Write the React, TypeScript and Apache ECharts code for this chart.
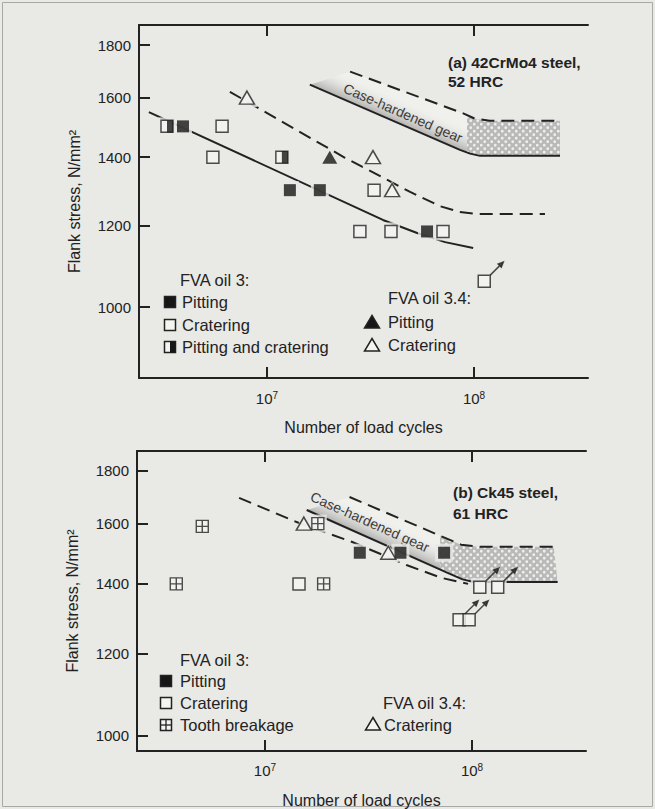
import React, { useEffect, useRef } from "react";
import * as echarts from "echarts";

// ---------- axes ----------
const xTicks = [1e7, 1e8];
const yTicks = [1000, 1200, 1400, 1600, 1800];
const X_MIN = 2.41e6;
const X_MAX = 3.55e8;
const YA_MIN = 853;
const YA_MAX = 1883;
const YB_MIN = 967;
const YB_MAX = 1879;

// ---------- panel (a) 42CrMo4 steel ----------
const aPitting = [[3.93e6, 1500], [1.29e7, 1300], [1.8e7, 1300], [5.93e7, 1185]];
const aCratering = [[6.07e6, 1500], [5.48e6, 1400], [3.29e7, 1300], [2.81e7, 1185], [3.97e7, 1185], [7.08e7, 1185], [1.12e8, 1060]];
const aPitCrat = [[3.29e6, 1500], [1.18e7, 1400]];
const aOil34Pitting = [[2.01e7, 1400]];
const aOil34Cratering = [[8.0e6, 1600], [3.25e7, 1400], [4.02e7, 1300]];
const aArrows = [[1.12e8, 1060]];
const aPittingLine = [[2.69e6, 1549], [3.63e7, 1216], [5.31e7, 1181], [7.25e7, 1157], [9.9e7, 1142]];
const aCrateringLine = [[6.62e6, 1621], [2.38e7, 1398], [4.91e7, 1295], [6.85e7, 1254], [8.55e7, 1238], [1.045e8, 1232], [2.2e8, 1232]];
const aBandLower = [[1.61e7, 1647], [8.55e7, 1423], [9.57e7, 1411], [1.07e8, 1404], [2.6e8, 1404]];
const aBandUpper = [[2.52e7, 1696], [8.75e7, 1546], [1.01e8, 1526], [1.19e8, 1519], [2.6e8, 1519]];
const aPatternStart = 9.25e7;
const aBandLabelAt = [4.54e7, 1546];

// ---------- panel (b) Ck45 steel ----------
const bPitting = [[2.87e7, 1500], [4.51e7, 1500], [7.33e7, 1500]];
const bCratering = [[1.46e7, 1400], [1.09e8, 1390], [1.33e8, 1390], [8.66e7, 1293], [9.68e7, 1293]];
const bTooth = [[4.98e6, 1590], [3.73e6, 1400], [1.8e7, 1600], [1.92e7, 1400]];
const bOil34Cratering = [[1.54e7, 1600], [3.94e7, 1500]];
const bArrows = [[1.09e8, 1390], [1.33e8, 1390], [8.66e7, 1293], [9.68e7, 1293]];
const bCrateringLine = [[7.5e6, 1694], [1.46e7, 1602], [2.62e7, 1537], [4.82e7, 1460], [7.1e7, 1419], [9.57e7, 1400]];
const bBandLower = [[1.59e7, 1649], [7.67e7, 1434], [9.0e7, 1414], [1.02e8, 1406], [2.59e8, 1406]];
const bBandUpper = [[2.56e7, 1697], [8.85e7, 1527], [1.07e8, 1520], [2.48e8, 1520]];
const bPatternStart = 7.0e7;
const bBandLabelAt = [3.21e7, 1606];

const INK = "#222222";
const BG = "#e9e9e6";
const PAPER = "#f4f4f1";
const FONT = '"Liberation Sans", Arial, sans-serif';

const ARROW = "path://M0,13L9.5,3.5M13,0L11,5.1L7.9,2Z";
const TOOTH = "path://M0,0H12V12H0Z M6,0V12 M0,6H12";

function interpY(pts: number[][], x: number) {
  for (let i = 0; i < pts.length - 1; i++) {
    const a = pts[i], b = pts[i + 1];
    if (x >= a[0] && x <= b[0]) {
      const t = (x - a[0]) / (b[0] - a[0] || 1);
      return a[1] + t * (b[1] - a[1]);
    }
  }
  return x < pts[0][0] ? pts[0][1] : pts[pts.length - 1][1];
}

function bandSeries(g: number, lower: number[][], upper: number[][], patStart: number, labelAt: number[], pattern: any) {
  return {
    type: "custom",
    xAxisIndex: g * 2,
    yAxisIndex: g,
    silent: true,
    z: 1,
    data: [labelAt],
    encode: { x: 0, y: 1 },
    renderItem: (params: any, api: any) => {
      const L = lower.map((p) => api.coord(p));
      const U = upper.map((p) => api.coord(p));
      const poly = [...U, ...L.slice().reverse()];
      const p0 = L[0], p1 = L[1];
      let dx = p1[0] - p0[0], dy = p1[1] - p0[1];
      const len = Math.hypot(dx, dy);
      dx /= len; dy /= len;
      const nx = dy, ny = -dx;
      const m = [(p0[0] + p1[0]) / 2, (p0[1] + p1[1]) / 2];
      const grad = new echarts.graphic.LinearGradient(
        m[0], m[1], m[0] + nx * 24, m[1] + ny * 24,
        [
          { offset: 0, color: "rgba(150,150,148,0.7)" },
          { offset: 0.45, color: "rgba(190,190,188,0.4)" },
          { offset: 1, color: "rgba(240,240,238,0)" },
        ],
        true
      );
      const xs = api.coord([patStart, lower[0][1]])[0];
      const yU = interpY(U, xs), yL = interpY(L, xs);
      const patPoly = [[xs, yU], ...U.filter((p: number[]) => p[0] > xs), ...L.filter((p: number[]) => p[0] > xs).reverse(), [xs, yL]];
      const c = api.coord(labelAt);
      const ang = Math.atan2(dy, dx);
      return {
        type: "group",
        children: [
          { type: "polygon", shape: { points: poly }, style: { fill: "#f0f0ed" } },
          { type: "polygon", shape: { points: poly }, style: { fill: grad } },
          { type: "polygon", shape: { points: patPoly }, style: { fill: pattern } },
          {
            type: "text",
            x: c[0],
            y: c[1],
            rotation: -ang,
            style: {
              text: "Case-hardened gear",
              fill: "#3c3c3c",
              fontSize: 14,
              fontFamily: FONT,
              align: "center",
              verticalAlign: "middle",
            },
          },
        ],
      };
    },
  };
}

function lineSeries(g: number, data: number[][], dashed: boolean) {
  return {
    type: "line",
    xAxisIndex: g * 2,
    yAxisIndex: g,
    data,
    symbol: "none",
    showSymbol: false,
    smooth: false,
    silent: true,
    z: 2,
    lineStyle: { color: INK, width: 2, type: dashed ? [13, 7] : "solid", join: "round" },
  };
}

function scatter(g: number, data: number[][], extra: any) {
  return {
    type: "scatter",
    xAxisIndex: g * 2,
    yAxisIndex: g,
    data,
    silent: true,
    z: 4,
    ...extra,
  };
}

// halo under a marker, so that lines break around it as in the print
function halo(g: number, data: number[][], symbol: string, size: number | number[]) {
  const s = Array.isArray(size) ? [size[0] + 6, size[1] + 6] : size + 6;
  return scatter(g, data, { symbol, symbolSize: s, z: 3, itemStyle: { color: BG } });
}

const openSq = { symbol: "rect", symbolSize: 12, itemStyle: { color: PAPER, borderColor: INK, borderWidth: 1.5 } };
const fillSq = { symbol: "rect", symbolSize: 12, itemStyle: { color: "#161616" } };
const halfSq = { symbol: "rect", symbolSize: [6, 12], symbolOffset: [3, 0], z: 5, itemStyle: { color: "#161616" } };
const openTri = { symbol: "triangle", symbolSize: [15, 13], itemStyle: { color: PAPER, borderColor: INK, borderWidth: 1.5 } };
const fillTri = { symbol: "triangle", symbolSize: [15, 13], itemStyle: { color: "#161616" } };
const tooth = { symbol: TOOTH, symbolSize: 12, itemStyle: { color: PAPER, borderColor: INK, borderWidth: 1.4 } };
const arrow = { symbol: ARROW, symbolSize: 13, symbolOffset: [12.5, -12.5], z: 5, itemStyle: { color: INK, borderColor: INK, borderWidth: 1.5 } };

const powRich = {
  b: { color: INK, fontSize: 15, fontFamily: FONT },
  s: { color: INK, fontSize: 10, fontFamily: FONT, verticalAlign: "top", padding: [0, 0, 7, 0] },
};

function xAxes(g: number, labelMargin: number) {
  return [
    {
      type: "log",
      gridIndex: g,
      position: "bottom",
      min: X_MIN,
      max: X_MAX,
      axisLine: { show: true, onZero: false, lineStyle: { color: INK, width: 2 } },
      axisTick: { show: true, inside: true, length: 11, customValues: xTicks, lineStyle: { color: INK, width: 2 } },
      minorTick: { show: false },
      splitLine: { show: false },
      axisLabel: {
        customValues: xTicks,
        margin: labelMargin,
        color: INK,
        fontSize: 15,
        fontFamily: FONT,
        formatter: (v: number) => "{b|10}{s|" + Math.round(Math.log10(v)) + "}",
        rich: powRich,
      },
      name: "Number of load cycles",
      nameLocation: "middle",
      nameGap: 41,
      nameTextStyle: { color: INK, fontSize: 16, fontFamily: FONT },
    },
    {
      type: "log",
      gridIndex: g,
      position: "top",
      min: X_MIN,
      max: X_MAX,
      axisLine: { show: true, onZero: false, lineStyle: { color: INK, width: 2 } },
      axisTick: { show: true, inside: true, length: 11, customValues: xTicks, lineStyle: { color: INK, width: 2 } },
      minorTick: { show: false },
      splitLine: { show: false },
      axisLabel: { show: false },
    },
  ];
}

function yAxis(g: number, min: number, max: number) {
  return {
    type: "log",
    gridIndex: g,
    min,
    max,
    axisLine: { show: true, onZero: false, lineStyle: { color: INK, width: 2 } },
    axisTick: { show: true, inside: true, length: 11, customValues: yTicks, lineStyle: { color: INK, width: 2 } },
    minorTick: { show: false },
    splitLine: { show: false },
    axisLabel: {
      customValues: yTicks,
      margin: 8,
      color: INK,
      fontSize: 15,
      fontFamily: FONT,
      formatter: (v: number) => String(Math.round(v)),
    },
    name: "Flank stress, N/mm²",
    nameLocation: "middle",
    nameGap: 57,
    nameTextStyle: { color: INK, fontSize: 16, fontFamily: FONT },
  };
}

function txt(x: number, y: number, text: string, bold = false, size = 16.5) {
  return {
    type: "text",
    x,
    y,
    silent: true,
    style: { text, fill: INK, fontSize: size, fontWeight: bold ? "bold" : "normal", fontFamily: FONT, verticalAlign: "middle", align: "left" },
  };
}
function lSq(x: number, y: number, fill: string) {
  return { type: "rect", silent: true, shape: { x: x - 5.5, y: y - 5.5, width: 11, height: 11 }, style: { fill, stroke: INK, lineWidth: 1.5 } };
}
function lTri(x: number, y: number, fill: string) {
  return { type: "polygon", silent: true, shape: { points: [[x, y - 6.5], [x + 7.5, y + 6], [x - 7.5, y + 6]] }, style: { fill, stroke: INK, lineWidth: 1.5 } };
}
function lHalf(x: number, y: number) {
  return [lSq(x, y, PAPER), { type: "rect", silent: true, shape: { x: x, y: y - 5.5, width: 5.5, height: 11 }, style: { fill: "#161616" } }];
}
function lTooth(x: number, y: number) {
  return [
    lSq(x, y, PAPER),
    { type: "line", silent: true, shape: { x1: x, y1: y - 5.5, x2: x, y2: y + 5.5 }, style: { stroke: INK, lineWidth: 1.3 } },
    { type: "line", silent: true, shape: { x1: x - 5.5, y1: y, x2: x + 5.5, y2: y }, style: { stroke: INK, lineWidth: 1.3 } },
  ];
}

export default function App() {
  const ref = useRef<HTMLDivElement>(null);
  useEffect(() => {
    if (!ref.current) return;
    document.body.style.background = BG;
    const chart = echarts.init(ref.current, null, { renderer: "svg" });

    const cv = document.createElement("canvas");
    cv.width = 7;
    cv.height = 7;
    const ctx = cv.getContext("2d");
    if (ctx) {
      ctx.fillStyle = "#b9b9b7";
      ctx.fillRect(0, 0, 7, 7);
      ctx.fillStyle = "#eeeeec";
      ctx.beginPath();
      ctx.arc(1.75, 1.75, 1.4, 0, Math.PI * 2);
      ctx.arc(5.25, 5.25, 1.4, 0, Math.PI * 2);
      ctx.fill();
    }
    const pattern: any = { image: cv, repeat: "repeat", imageWidth: 7, imageHeight: 7 };

    const option: any = {
      animation: false,
      backgroundColor: BG,
      grid: [
        { left: 139, top: 25, width: 449, height: 353, outerBoundsMode: "none", containLabel: false },
        { left: 137, top: 451, width: 449, height: 300, outerBoundsMode: "none", containLabel: false },
      ],
      xAxis: [...xAxes(0, 12), ...xAxes(1, 11)],
      yAxis: [yAxis(0, YA_MIN, YA_MAX), yAxis(1, YB_MIN, YB_MAX)],
      series: [
        bandSeries(0, aBandLower, aBandUpper, aPatternStart, aBandLabelAt, pattern),
        lineSeries(0, aBandLower, false),
        lineSeries(0, aBandUpper, true),
        lineSeries(0, aPittingLine, false),
        lineSeries(0, aCrateringLine, true),
        halo(0, aPitting, "rect", 12),
        halo(0, aCratering, "rect", 12),
        halo(0, aPitCrat, "rect", 12),
        halo(0, aOil34Pitting, "triangle", [15, 13]),
        halo(0, aOil34Cratering, "triangle", [15, 13]),
        scatter(0, aPitting, fillSq),
        scatter(0, aCratering, openSq),
        scatter(0, aPitCrat, openSq),
        scatter(0, aPitCrat, halfSq),
        scatter(0, aOil34Pitting, fillTri),
        scatter(0, aOil34Cratering, openTri),
        scatter(0, aArrows, arrow),

        bandSeries(1, bBandLower, bBandUpper, bPatternStart, bBandLabelAt, pattern),
        lineSeries(1, bBandLower, false),
        lineSeries(1, bBandUpper, true),
        lineSeries(1, bCrateringLine, true),
        halo(1, bPitting, "rect", 12),
        halo(1, bCratering, "rect", 12),
        halo(1, bTooth, "rect", 12),
        halo(1, bOil34Cratering, "triangle", [15, 13]),
        scatter(1, bPitting, fillSq),
        scatter(1, bCratering, openSq),
        scatter(1, bTooth, tooth),
        scatter(1, bOil34Cratering, openTri),
        scatter(1, bArrows, arrow),
      ],
      graphic: [
        { type: "rect", silent: true, shape: { x: 2.5, y: 2.5, width: 650, height: 804 }, style: { fill: "none", stroke: "#a8a8a6", lineWidth: 1 } },
        txt(448, 62, "(a) 42CrMo4 steel,", true, 15.5),
        txt(448, 81, "52 HRC", true, 15.5),
        txt(180, 280, "FVA oil 3:"),
        lSq(170, 302, "#161616"),
        txt(182, 302, "Pitting"),
        lSq(170, 325, PAPER),
        txt(182, 325, "Cratering"),
        ...lHalf(170, 347),
        txt(182, 347, "Pitting and cratering"),
        txt(388, 298, "FVA oil 3.4:"),
        lTri(372, 322, "#161616"),
        txt(388, 322, "Pitting"),
        lTri(372, 345, PAPER),
        txt(388, 345, "Cratering"),

        txt(453, 492, "(b) Ck45 steel,", true, 15.5),
        txt(453, 513, "61 HRC", true, 15.5),
        txt(180, 660, "FVA oil 3:"),
        lSq(166, 681, "#161616"),
        txt(180, 681, "Pitting"),
        lSq(166, 703, PAPER),
        txt(180, 703, "Cratering"),
        ...lTooth(166, 725),
        txt(180, 725, "Tooth breakage"),
        txt(383, 703, "FVA oil 3.4:"),
        lTri(373, 724, PAPER),
        txt(384, 725, "Cratering"),
      ],
    };
    chart.setOption(option);
    return () => chart.dispose();
  }, []);
  return <div ref={ref} style={{ position: "fixed", left: 0, top: 0, width: 655, height: 809 }} />;
}
